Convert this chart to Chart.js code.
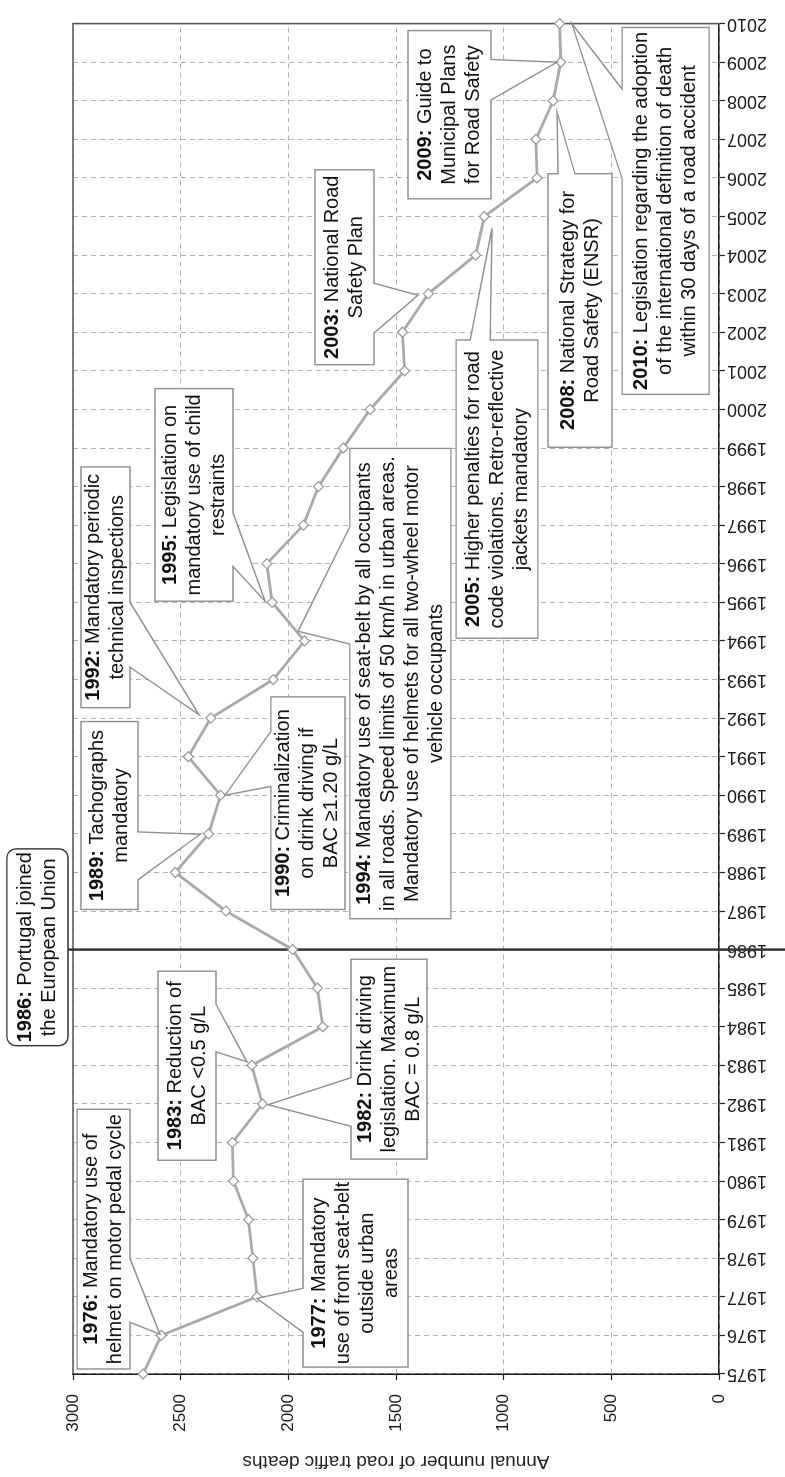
<!DOCTYPE html>
<html>
<head>
<meta charset="utf-8">
<script src="https://cdn.jsdelivr.net/npm/chart.js@4.4.0/dist/chart.umd.min.js"></script>
<style>
  html, body { margin: 0; padding: 0; background: #fff; overflow: hidden; }
  /* the chart is drawn landscape and turned a quarter turn, like the printed figure */
  #wrap { position: absolute; left: 0; top: 0; width: 1477px; height: 785px;
          transform-origin: 0 0; transform: translateY(1477px) rotate(-90deg); }
</style>
</head>
<body>
<div id="wrap"><canvas id="chart" width="1477" height="785"></canvas></div>
<script>
const FONT = '"Liberation Sans", Arial, sans-serif';

// Years and annual road traffic deaths
const years = [1975, 1976, 1977, 1978, 1979, 1980, 1981, 1982, 1983, 1984, 1985, 1986,
               1987, 1988, 1989, 1990, 1991, 1992, 1993, 1994, 1995, 1996, 1997, 1998,
               1999, 2000, 2001, 2002, 2003, 2004, 2005, 2006, 2007, 2008, 2009, 2010];
const deaths = [2675, 2590, 2145, 2165, 2185, 2255, 2260, 2120, 2170, 1840, 1865, 1980,
                2290, 2525, 2370, 2315, 2465, 2360, 2070, 1925, 2075, 2100, 1930, 1860,
                1745, 1620, 1460, 1470, 1350, 1130, 1090, 845, 850, 770, 735, 740];
const axisTitle = 'Annual number of road traffic deaths';
const joinYear = 1986; // Portugal joins the EU: marked with a solid line

// Callout boxes: box = [year from, year to, deaths low, deaths high],
// side = where the pointer leaves the box, base = pointer base, tip = [year, deaths]
const notes = [
  { lines: [['1976:', ' Mandatory use of'], ['', 'helmet on motor pedal cycle']],
    box: [1975.13, 1981.86, 2735, 2981], side: 'bottom', base: [1976.34, 1977.99], tip: [1976.03, 2596] },
  { lines: [['1977:', ' Mandatory'], ['', 'use of front seat-belt'], ['', 'outside urban'], ['', 'areas']],
    box: [1975.18, 1980.05, 1444, 1932], side: 'top', base: [1976.08, 1977.22], tip: [1976.96, 2146] },
  { lines: [['1982:', ' Drink driving'], ['', 'legislation. Maximum'], ['', 'BAC = 0.8 g/L']],
    box: [1980.57, 1985.75, 1356, 1709], side: 'top', base: [1981.42, 1982.68], tip: [1981.98, 2094] },
  { lines: [['1983:', ' Reduction of'], ['', 'BAC <0.5 g/L']],
    box: [1980.54, 1985.44, 2336, 2605], side: 'bottom', base: [1983.35, 1984.59], tip: [1983.09, 2192] },
  { lines: [['1986:', ' Portugal joined'], ['', 'the European Union']],
    box: [1983.51, 1988.61, 3023, 3307], rounded: true },
  { lines: [['1989:', ' Tachographs'], ['', 'mandatory']],
    box: [1987.04, 1991.91, 2698, 2963], side: 'bottom', base: [1987.81, 1989.05], tip: [1988.99, 2410] },
  { lines: [['1990:', ' Criminalization'], ['', 'on drink driving if'], ['', 'BAC \u22651.20 g/L']],
    box: [1987.04, 1992.55, 1737, 2081], side: 'top', base: [1990.23, 1991.65], tip: [1990.0, 2294] },
  { lines: [['1992:', ' Mandatory periodic'], ['', 'technical inspections']],
    box: [1992.27, 1998.51, 2735, 2963], side: 'bottom', base: [1993.32, 1995.0], tip: [1992.09, 2415] },
  { lines: [['1994:', ' Mandatory use of seat-belt by all occupants'],
            ['', 'in all roads. Speed limits of 50 km/h in urban areas.'],
            ['', 'Mandatory use of helmets for all two-wheel motor'],
            ['', 'vehicle occupants']],
    box: [1986.80, 1998.99, 1245, 1714], side: 'top', base: [1993.92, 1996.96], tip: [1994.25, 1955] },
  { lines: [['1995:', ' Legislation on'], ['', 'mandatory use of child'], ['', 'restraints']],
    box: [1995.03, 2000.54, 2257, 2619], side: 'bottom', base: [1995.93, 1997.32], tip: [1995.03, 2108] },
  { lines: [['2003:', ' National Road'], ['', 'Safety Plan']],
    box: [2001.16, 2006.21, 1602, 1876], side: 'bottom', base: [2001.98, 2003.27], tip: [2002.96, 1398] },
  { lines: [['2005:', ' Higher penalties for road'], ['', 'code violations. Retro-reflective'], ['', 'jackets mandatory']],
    box: [1994.07, 2001.80, 841, 1221], side: 'right', base: [1063, 1156], tip: [2004.69, 1054] },
  { lines: [['2008:', ' National Strategy for'], ['', 'Road Safety (ENSR)']],
    box: [1999.02, 2006.11, 497, 794], side: 'right', base: [669, 748], tip: [2007.71, 752] },
  { lines: [['2009:', ' Guide to'], ['', 'Municipal Plans'], ['', 'for Road Safety']],
    box: [2005.46, 2009.82, 1059, 1444], side: 'bottom', base: [2008.02, 2009.07], tip: [2009.0, 752] },
  { lines: [['2010:', ' Legislation regarding the adoption'], ['', 'of the international definition of death'],
            ['', 'within 30 days of a road accident']],
    box: [2000.39, 2009.90, 46, 450], side: 'top', base: [2005.98, 2008.30], tip: [2010.0, 683] }
];

function roundRectPath(ctx, x, y, w, h, r) {
  ctx.moveTo(x + r, y);
  ctx.arcTo(x + w, y, x + w, y + h, r);
  ctx.arcTo(x + w, y + h, x, y + h, r);
  ctx.arcTo(x, y + h, x, y, r);
  ctx.arcTo(x, y, x + w, y, r);
  ctx.closePath();
}

// draws one callout: box with a wedge pointing at the data
function drawNote(ctx, xs, ys, n) {
  const l = xs.getPixelForValue(n.box[0]), r = xs.getPixelForValue(n.box[1]);
  const b = ys.getPixelForValue(n.box[2]), t = ys.getPixelForValue(n.box[3]);
  ctx.beginPath();
  if (n.rounded) {
    roundRectPath(ctx, l, t, r - l, b - t, 9);
  } else {
    const tip = [xs.getPixelForValue(n.tip[0]), ys.getPixelForValue(n.tip[1])];
    const bx = n.base.map(v => xs.getPixelForValue(v));
    const by = n.base.map(v => ys.getPixelForValue(v));
    const pts = [[l, t]];
    if (n.side === 'top') { bx.sort((p, q) => p - q); pts.push([bx[0], t], tip, [bx[1], t]); }
    pts.push([r, t]);
    if (n.side === 'right') { by.sort((p, q) => p - q); pts.push([r, by[0]], tip, [r, by[1]]); }
    pts.push([r, b]);
    if (n.side === 'bottom') { bx.sort((p, q) => q - p); pts.push([bx[0], b], tip, [bx[1], b]); }
    pts.push([l, b]);
    if (n.side === 'left') { by.sort((p, q) => q - p); pts.push([l, by[0]], tip, [l, by[1]]); }
    pts.forEach((p, i) => i ? ctx.lineTo(p[0], p[1]) : ctx.moveTo(p[0], p[1]));
    ctx.closePath();
  }
  ctx.fillStyle = '#fff';
  ctx.fill();
  ctx.strokeStyle = n.rounded ? '#333' : '#8f8f8f';
  ctx.lineWidth = 1.4;
  ctx.lineJoin = 'miter';
  ctx.stroke();

  // text, centred line by line, bold year prefix
  const cx = (l + r) / 2, cy = (t + b) / 2, lh = 24;
  const top = cy - (n.lines.length - 1) * lh / 2;
  ctx.fillStyle = '#111';
  ctx.textBaseline = 'middle';
  ctx.textAlign = 'left';
  n.lines.forEach((ln, i) => {
    ctx.font = 'bold 20px ' + FONT;
    const wb = ln[0] ? ctx.measureText(ln[0]).width : 0;
    ctx.font = '20px ' + FONT;
    const wr = ctx.measureText(ln[1]).width;
    let xx = cx - (wb + wr) / 2;
    const yy = top + i * lh;
    if (ln[0]) {
      ctx.font = 'bold 20px ' + FONT;
      ctx.fillText(ln[0], xx, yy);
      xx += wb;
      ctx.font = '20px ' + FONT;
    }
    ctx.fillText(ln[1], xx, yy);
  });
}

const notesPlugin = {
  id: 'notes',
  beforeDatasetsDraw(chart) {
    const { ctx, chartArea: a, scales: { x, y } } = chart;
    ctx.save();
    // frame on the two sides without axis
    ctx.strokeStyle = '#555';
    ctx.lineWidth = 1.6;
    ctx.beginPath();
    ctx.moveTo(a.left, a.top);
    ctx.lineTo(a.right, a.top);
    ctx.lineTo(a.right, a.bottom);
    ctx.stroke();
    // EU accession line
    const joinNote = notes.find(n => n.rounded);
    const px = x.getPixelForValue(joinYear);
    ctx.strokeStyle = '#333';
    ctx.lineWidth = 2.5;
    ctx.beginPath();
    ctx.moveTo(px, y.getPixelForValue(joinNote.box[2]));
    ctx.lineTo(px, chart.height);
    ctx.stroke();
    ctx.restore();
  },
  afterDatasetsDraw(chart) {
    const { ctx, scales: { x, y } } = chart;
    ctx.save();
    notes.forEach(n => drawNote(ctx, x, y, n));
    ctx.restore();
  }
};

Chart.defaults.font.family = FONT;

const gridStyle = { color: '#b3b3b3', lineWidth: 1, tickLength: 6, tickColor: '#222', tickWidth: 1.2, tickBorderDash: [] };
const borderStyle = { color: '#1a1a1a', width: 1.5, dash: [5, 4] };

new Chart(document.getElementById('chart'), {
  type: 'line',
  data: {
    datasets: [{
      data: years.map((yr, i) => ({ x: yr, y: deaths[i] })),
      borderColor: '#a9a9a9',
      borderWidth: 2.8,
      tension: 0,
      pointStyle: 'rectRot',
      pointRadius: 5,
      pointBackgroundColor: '#fff',
      pointBorderColor: '#999',
      pointBorderWidth: 1.2,
      clip: false
    }]
  },
  options: {
    responsive: false,
    animation: false,
    devicePixelRatio: 1,
    layout: { padding: { left: 0, right: 16, top: 73, bottom: 0 } },
    plugins: { legend: { display: false }, tooltip: { enabled: false } },
    scales: {
      x: {
        type: 'linear', min: 1975, max: 2010,
        ticks: { stepSize: 1, autoSkip: false, minRotation: 90, maxRotation: 90, padding: 2,
                 color: '#1a1a1a', font: { size: 18 }, callback: v => String(v) },
        grid: gridStyle,
        border: borderStyle,
        afterFit: s => { s.height = 66; }
      },
      y: {
        min: 0, max: 3000,
        ticks: { stepSize: 500, padding: 14, color: '#1a1a1a', font: { size: 17 }, callback: v => String(v) },
        grid: gridStyle,
        border: borderStyle,
        title: { display: true, text: axisTitle, color: '#222', font: { size: 19 }, padding: { top: 4, bottom: 4 } },
        afterFit: s => { s.width = 103; }
      }
    }
  },
  plugins: [notesPlugin]
});
</script>
</body>
</html>
